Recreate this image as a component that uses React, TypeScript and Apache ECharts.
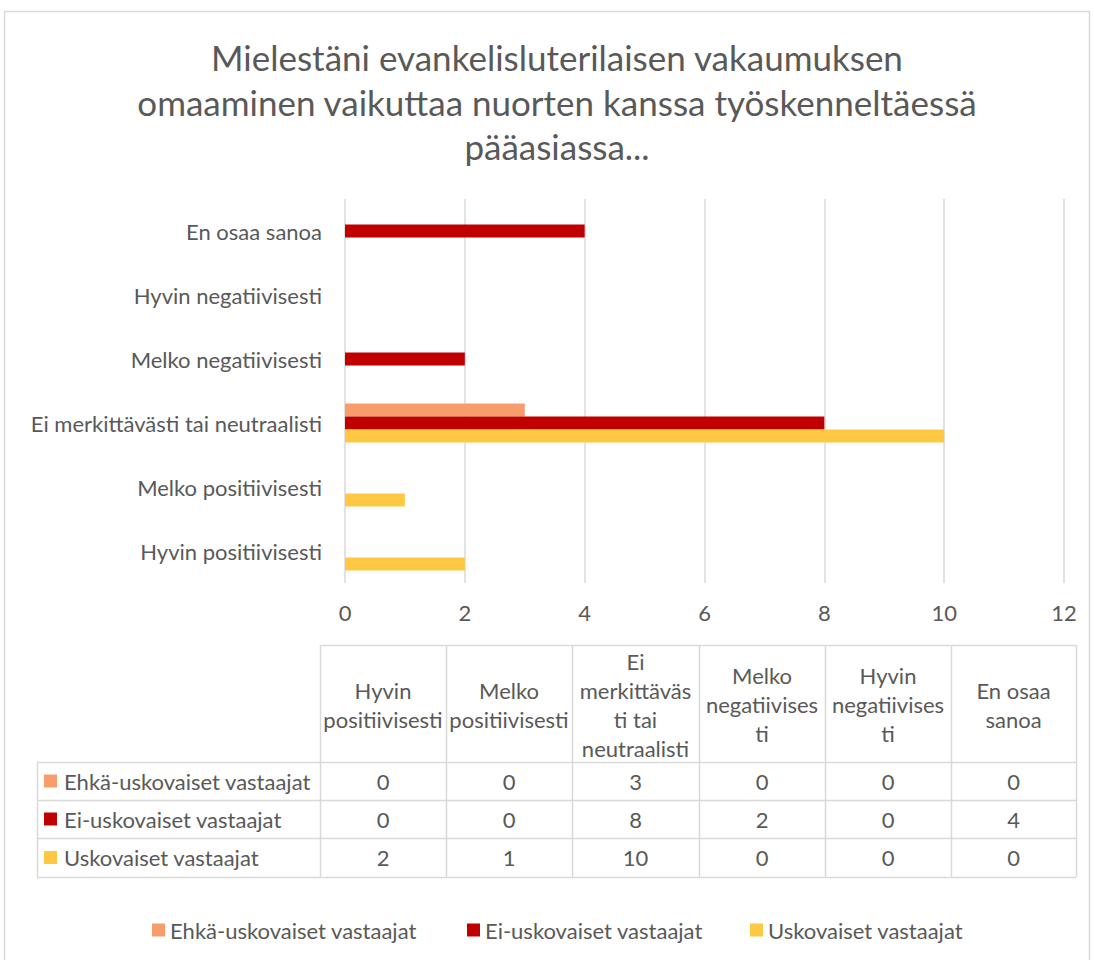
import React, { useEffect, useRef } from "react";
import * as echarts from "echarts";

const categories = [
  "Hyvin positiivisesti",
  "Melko positiivisesti",
  "Ei merkittävästi tai neutraalisti",
  "Melko negatiivisesti",
  "Hyvin negatiivisesti",
  "En osaa sanoa",
];
const headerLabels = [
  "Hyvin\npositiivisesti",
  "Melko\npositiivisesti",
  "Ei\nmerkittäväs\nti tai\nneutraalisti",
  "Melko\nnegatiivises\nti",
  "Hyvin\nnegatiivises\nti",
  "En osaa\nsanoa",
];
const seriesNames = ["Ehkä-uskovaiset vastaajat", "Ei-uskovaiset vastaajat", "Uskovaiset vastaajat"];
const ehkaValues = [0, 0, 3, 0, 0, 0];
const eiValues = [0, 0, 8, 2, 0, 4];
const uskValues = [2, 1, 10, 0, 0, 0];
const seriesColors = ["#F79D6C", "#C00000", "#FFC842"];
const titleText = "Mielestäni evankelisluterilaisen vakaumuksen\nomaaminen vaikuttaa nuorten kanssa työskenneltäessä\npääasiassa...";

const FONT = "Lato, 'Open Sans', sans-serif";
const TXT = "#595959";
const BORDER = "#D9D9D9";
const FS = 22;

export default function App() {
  const ref = useRef<HTMLDivElement>(null);
  useEffect(() => {
    if (!ref.current) return;
    const chart = echarts.init(ref.current, undefined, { renderer: "svg" });
    const values = [ehkaValues, eiValues, uskValues];

    const colX = [320, 446, 572, 699, 825, 951, 1076];
    const rowY = [645, 762, 800, 838, 877];
    const tableLeft = 37;
    const g: any[] = [];
    g.push({
      type: "rect",
      shape: { x: 4.5, y: 11.5, width: 1085, height: 960 },
      style: { fill: "none", stroke: BORDER, lineWidth: 1.5 },
      silent: true,
    });
    g.push({ type: "line", shape: { x1: colX[0], y1: rowY[0] + 0.5, x2: colX[6], y2: rowY[0] + 0.5 }, style: { stroke: BORDER, lineWidth: 1.5 } });
    for (let r = 1; r < rowY.length; r++) {
      g.push({ type: "line", shape: { x1: tableLeft, y1: rowY[r] + 0.5, x2: colX[6], y2: rowY[r] + 0.5 }, style: { stroke: BORDER, lineWidth: 1.5 } });
    }
    g.push({ type: "line", shape: { x1: tableLeft + 0.5, y1: rowY[1], x2: tableLeft + 0.5, y2: rowY[4] }, style: { stroke: BORDER, lineWidth: 1.5 } });
    for (let c = 0; c < colX.length; c++) {
      g.push({ type: "line", shape: { x1: colX[c] + 0.5, y1: rowY[0], x2: colX[c] + 0.5, y2: rowY[4] }, style: { stroke: BORDER, lineWidth: 1.5 } });
    }
    headerLabels.forEach((h, i) => {
      g.push({
        type: "text",
        x: (colX[i] + colX[i + 1]) / 2,
        y: (rowY[0] + rowY[1]) / 2 + 1,
        style: { text: h, fontSize: FS, fontFamily: FONT, fill: TXT, align: "center", verticalAlign: "middle", lineHeight: 29 },
      });
    });
    seriesNames.forEach((name, r) => {
      const cy = (rowY[r + 1] + rowY[r + 2]) / 2;
      g.push({ type: "rect", shape: { x: 44, y: cy - 6.5, width: 13, height: 13 }, style: { fill: seriesColors[r] } });
      g.push({
        type: "text",
        x: 64,
        y: cy,
        style: { text: name, fontSize: FS, fontFamily: FONT, fill: TXT, align: "left", verticalAlign: "middle" },
      });
      values[r].forEach((v, c) => {
        g.push({
          type: "text",
          x: (colX[c] + colX[c + 1]) / 2,
          y: cy,
          style: { text: String(v), fontSize: FS, fontFamily: FONT, fill: TXT, align: "center", verticalAlign: "middle" },
        });
      });
    });
    g.push({
      type: "text",
      x: 557,
      y: 35,
      style: { text: titleText, fontSize: 35, fontFamily: FONT, fill: TXT, align: "center", verticalAlign: "top", lineHeight: 44.5 },
    });

    const legendX = [147, 462, 745];

    chart.setOption({
      animation: false,
      backgroundColor: "#ffffff",
      textStyle: { fontFamily: FONT },
      grid: { left: 345, right: 30, top: 199, bottom: 377, containLabel: false },
      legend: seriesNames.map((n, i) => ({
        data: [n],
        left: legendX[i],
        top: 914,
        icon: "rect",
        itemWidth: 13,
        itemHeight: 13,
        itemGap: 6,
        textStyle: { color: TXT, fontSize: FS, fontFamily: FONT },
      })),
      xAxis: {
        type: "value",
        min: 0,
        max: 12,
        interval: 2,
        axisLine: { show: false },
        axisTick: { show: false },
        axisLabel: { color: TXT, fontSize: FS, fontFamily: FONT, margin: 18 },
        splitLine: { lineStyle: { color: BORDER, width: 1.5 } },
      },
      yAxis: {
        type: "category",
        data: categories,
        axisLine: { show: false },
        axisTick: { show: false },
        axisLabel: { color: TXT, fontSize: FS, fontFamily: FONT, margin: 23 },
        splitLine: { show: false },
      },
      series: [
        { name: seriesNames[0], type: "bar", data: ehkaValues, barWidth: 13, barGap: "0%", itemStyle: { color: seriesColors[0] } },
        { name: seriesNames[1], type: "bar", data: eiValues, barWidth: 13, barGap: "0%", itemStyle: { color: seriesColors[1] } },
        { name: seriesNames[2], type: "bar", data: uskValues, barWidth: 13, barGap: "0%", itemStyle: { color: seriesColors[2] } },
      ],
      graphic: g,
    });
    return () => chart.dispose();
  }, []);
  return <div ref={ref} style={{ position: "absolute", left: 0, top: 0, width: 1094, height: 960 }} />;
}
